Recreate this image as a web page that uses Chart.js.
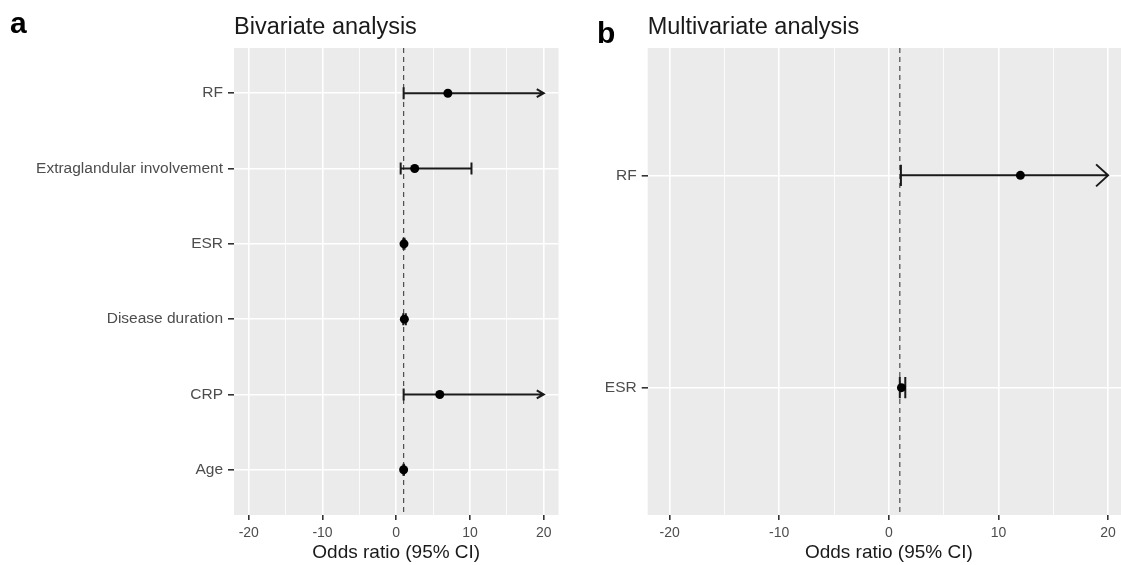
<!DOCTYPE html>
<html>
<head>
<meta charset="utf-8">
<script src="https://cdn.jsdelivr.net/npm/chart.js@4.4.1/dist/chart.umd.min.js"></script>
<style>
  html, body { margin: 0; padding: 0; background: #fff; overflow: hidden; }
  body { width: 1121px; height: 565px; position: relative; font-family: 'Liberation Sans', Arial, Helvetica, sans-serif; }
  .painel { position: absolute; top: 0; }
  .letra { position: absolute; font-weight: bold; font-size: 30px; line-height: 30px; color: #000; }
  .titulo { position: absolute; font-size: 23.5px; line-height: 23.5px; color: #1a1a1a; white-space: nowrap; }
</style>
</head>
<body>
<canvas id="bivariada" class="painel" style="left:0" width="560" height="565"></canvas>
<canvas id="multivariada" class="painel" style="left:560px" width="572" height="565"></canvas>
<div class="letra" style="left:10px; top:7.6px">a</div>
<div class="titulo" style="left:234px; top:15px">Bivariate analysis</div>
<div class="letra" style="left:597px; top:17.6px">b</div>
<div class="titulo" style="left:647.7px; top:15px">Multivariate analysis</div>
<script>
const FONTE = "'Liberation Sans', Arial, Helvetica, sans-serif";

// Painel a - análise bivariada (de cima para baixo)
const bivarVars = ['RF', 'Extraglandular involvement', 'ESR', 'Disease duration', 'CRP', 'Age'];
const bivarOR = [7.0, 2.5, 1.05, 1.1, 5.9, 1.0];
const bivarLower = [1.0, 0.6, 0.97, 0.95, 1.0, 0.97];
const bivarUpper = [20, 10.2, 1.12, 1.3, 20, 1.05];
const bivarSeta = [true, false, false, false, true, false]; // IC passa do limite do eixo

// Painel b - análise multivariada
const multiVars = ['RF', 'ESR'];
const multiOR = [12.0, 1.15];
const multiLower = [1.1, 1.0];
const multiUpper = [20, 1.5];
const multiSeta = [true, false];

// Eixo x
const xTicks = [-20, -15, -10, -5, 0, 5, 10, 15, 20];
const xMin = -22;
const xMax = 22;
const linhaRef = 1;

/**
 * Fundo cinza, linha tracejada em OR = 1 e barras de erro com setas.
 */
const pluginForest = {
    id: 'forest',
    beforeDraw(chart) {
        const { ctx, chartArea: a } = chart;
        ctx.save();
        ctx.fillStyle = '#EBEBEB';
        ctx.fillRect(a.left, a.top, a.right - a.left, a.bottom - a.top);
        ctx.restore();
    },
    beforeDatasetsDraw(chart, args, opts) {
        const { ctx, chartArea: a, scales: { x, y } } = chart;
        ctx.save();

        const xr = x.getPixelForValue(linhaRef);
        ctx.strokeStyle = '#4d4d4d';
        ctx.lineWidth = 1.2;
        ctx.setLineDash([5, 4]);
        ctx.beginPath();
        ctx.moveTo(xr, a.top);
        ctx.lineTo(xr, a.bottom);
        ctx.stroke();
        ctx.setLineDash([]);

        ctx.strokeStyle = '#1a1a1a';
        ctx.lineWidth = 2;
        const n = opts.lower.length;
        opts.lower.forEach((lo, i) => {
            const yv = n - i;
            const py = y.getPixelForValue(yv);
            const capH = Math.abs(y.getPixelForValue(yv + opts.cap) - py);
            const x1 = x.getPixelForValue(lo);
            const x2 = x.getPixelForValue(opts.upper[i]);

            ctx.beginPath();
            ctx.moveTo(x1, py);
            ctx.lineTo(x2, py);
            ctx.moveTo(x1, py - capH);
            ctx.lineTo(x1, py + capH);
            if (opts.arrow[i]) {
                ctx.moveTo(x2 - opts.headLen, py - opts.headHalf);
                ctx.lineTo(x2, py);
                ctx.lineTo(x2 - opts.headLen, py + opts.headHalf);
            } else {
                ctx.moveTo(x2, py - capH);
                ctx.lineTo(x2, py + capH);
            }
            ctx.stroke();
        });
        ctx.restore();
    }
};

function criarForest(canvasId, vars, or, lower, upper, seta, cfg) {
    const n = vars.length;
    const pontos = or.map((v, i) => ({ x: v, y: n - i }));

    return new Chart(document.getElementById(canvasId), {
        type: 'scatter',
        data: {
            datasets: [{
                data: pontos,
                pointRadius: 4.5,
                pointHoverRadius: 4.5,
                pointBackgroundColor: '#000',
                pointBorderWidth: 0
            }]
        },
        options: {
            responsive: false,
            animation: false,
            devicePixelRatio: 1,
            layout: {
                autoPadding: false,
                padding: { top: 48, right: cfg.padRight, left: 0, bottom: 0 }
            },
            plugins: {
                legend: { display: false },
                tooltip: { enabled: false },
                forest: {
                    lower: lower, upper: upper, arrow: seta,
                    cap: cfg.cap, headLen: cfg.headLen, headHalf: cfg.headHalf
                }
            },
            scales: {
                x: {
                    type: 'linear',
                    min: xMin,
                    max: xMax,
                    afterBuildTicks: s => { s.ticks = xTicks.map(v => ({ value: v })); },
                    afterFit: s => {
                        s.height = 50;
                        s.paddingLeft = 0;
                        s.paddingRight = 0;
                    },
                    border: { display: false },
                    grid: {
                        color: '#fff',
                        lineWidth: c => (c.tick && c.tick.value % 10 === 0) ? 1.6 : 0.8,
                        tickLength: 5,
                        tickWidth: 1.6,
                        tickColor: c => (c.tick && c.tick.value % 10 === 0) ? '#333' : 'rgba(0,0,0,0)'
                    },
                    ticks: {
                        autoSkip: false,
                        maxRotation: 0,
                        padding: 5,
                        color: '#4d4d4d',
                        font: { family: FONTE, size: 14 },
                        callback: v => (v % 10 === 0) ? String(v) : ''
                    },
                    title: {
                        display: true,
                        text: 'Odds ratio (95% CI)',
                        color: '#1a1a1a',
                        font: { family: FONTE, size: 19 },
                        padding: { top: 0, bottom: 1 }
                    }
                },
                y: {
                    type: 'linear',
                    min: 0.4,
                    max: n + 0.6,
                    afterBuildTicks: s => { s.ticks = vars.map((_, i) => ({ value: i + 1 })); },
                    afterFit: s => {
                        s.width = cfg.yWidth;
                        s.paddingTop = 0;
                        s.paddingBottom = 0;
                    },
                    border: { display: false },
                    grid: { color: '#fff', lineWidth: 1.6, tickLength: 6, tickWidth: 1.6, tickColor: '#333' },
                    ticks: {
                        padding: 5,
                        color: '#4d4d4d',
                        font: { family: FONTE, size: 15.5 },
                        callback: v => vars[n - v]
                    }
                }
            }
        },
        plugins: [pluginForest]
    });
}

criarForest('bivariada', bivarVars, bivarOR, bivarLower, bivarUpper, bivarSeta,
    { yWidth: 234, padRight: 1.5, cap: 0.08, headLen: 7, headHalf: 4 });
criarForest('multivariada', multiVars, multiOR, multiLower, multiUpper, multiSeta,
    { yWidth: 87.7, padRight: 2, cap: 0.05, headLen: 12, headHalf: 11 });
</script>
</body>
</html>
